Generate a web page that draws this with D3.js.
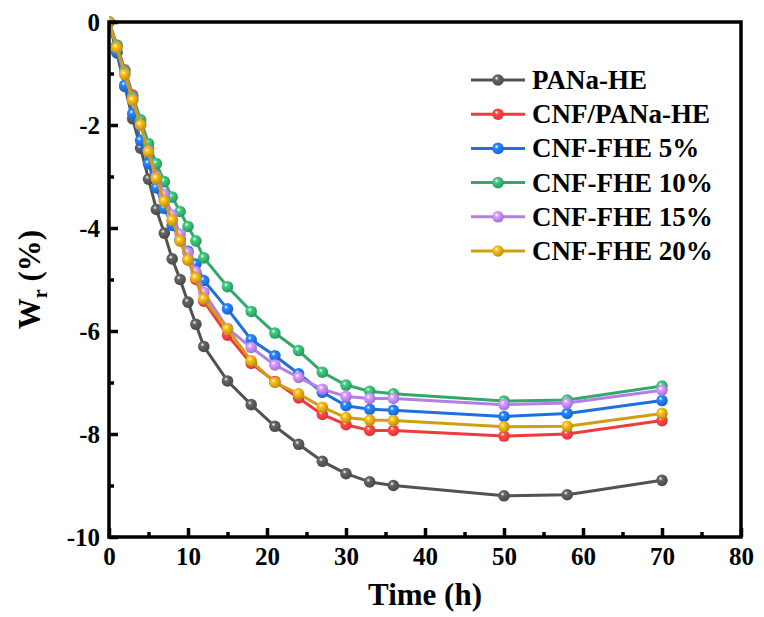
<!DOCTYPE html>
<html><head><meta charset="utf-8">
<script src="https://cdn.jsdelivr.net/npm/d3@7"></script>
<style>body{margin:0;background:#fff}svg{display:block}</style>
</head><body>
<svg id="c" width="764" height="617"></svg>
<script>
const times = [0,1,2,3,4,5,6,7,8,9,10,11,12,15,18,21,24,27,30,33,36,50,58,70];
const seriesNames = ["PANa-HE","CNF/PANa-HE","CNF-FHE 5%","CNF-FHE 10%","CNF-FHE 15%","CNF-FHE 20%"];
const seriesColors = ["#525252","#ee3b3b","#1f6fde","#32a96a","#b27fe6","#d29d12"];
const panaHE   = [0,-0.6,-1.25,-1.88,-2.45,-3.05,-3.64,-4.1,-4.6,-5.0,-5.44,-5.87,-6.3,-6.97,-7.43,-7.85,-8.2,-8.53,-8.77,-8.93,-9.0,-9.2,-9.18,-8.9];
const cnfPana  = [0,-0.45,-0.93,-1.42,-1.95,-2.45,-2.98,-3.45,-3.85,-4.25,-4.62,-5.0,-5.42,-6.08,-6.63,-6.98,-7.3,-7.62,-7.82,-7.93,-7.93,-8.04,-8.0,-7.74];
const fhe5     = [0,-0.58,-1.23,-1.78,-2.3,-2.75,-3.22,-3.62,-3.95,-4.22,-4.45,-4.7,-5.02,-5.57,-6.17,-6.48,-6.83,-7.19,-7.45,-7.52,-7.54,-7.66,-7.6,-7.35];
const fhe10    = [0,-0.45,-0.95,-1.45,-1.9,-2.36,-2.75,-3.1,-3.4,-3.68,-3.97,-4.25,-4.58,-5.14,-5.62,-6.04,-6.38,-6.8,-7.05,-7.17,-7.22,-7.36,-7.34,-7.07];
const fhe15    = [0,-0.5,-1.0,-1.5,-2.0,-2.5,-3.0,-3.35,-3.75,-4.12,-4.48,-4.85,-5.25,-5.95,-6.32,-6.66,-6.9,-7.13,-7.27,-7.31,-7.31,-7.43,-7.40,-7.15];
const fhe20    = [0,-0.5,-1.02,-1.52,-2.0,-2.52,-3.04,-3.48,-3.85,-4.25,-4.62,-4.97,-5.38,-5.96,-6.58,-7.0,-7.22,-7.48,-7.68,-7.73,-7.74,-7.86,-7.85,-7.6];
const xTicks = [0,10,20,30,40,50,60,70,80];
const yTicks = [0,-2,-4,-6,-8,-10];
const allSeries = [panaHE,cnfPana,fhe5,fhe10,fhe15,fhe20];

const svg = d3.select("#c");
const L=109, R=741, T=22, B=537;
const x = d3.scaleLinear().domain([0,80]).range([L,R]);
const y = d3.scaleLinear().domain([-10,0]).range([B,T]);
const font = "'Liberation Serif','Times New Roman',serif";
const fmt = d => String(d); // plain hyphen-minus

const defs = svg.append("defs");
seriesColors.forEach((c,i)=>{
  const g = defs.append("radialGradient").attr("id","g"+i)
    .attr("cx","0.38").attr("cy","0.35").attr("r","0.7");
  g.append("stop").attr("offset","0").attr("stop-color","#ffffff");
  g.append("stop").attr("offset","0.25").attr("stop-color",d3.color(c).brighter(0.6));
  g.append("stop").attr("offset","0.7").attr("stop-color",c);
  g.append("stop").attr("offset","1").attr("stop-color",d3.color(c).darker(0.4));
});

const plot = svg.append("g");
plot.append("clipPath").attr("id","clip").append("rect").attr("x",L).attr("y",T-8).attr("width",R-L).attr("height",B-T+8);
const line = d3.line().x((d,i)=>x(times[i])).y(d=>y(d));
allSeries.forEach((s,i)=>{
  const g = plot.append("g").attr("clip-path","url(#clip)");
  g.append("path").datum(s).attr("d",line).attr("fill","none")
    .attr("stroke",seriesColors[i]).attr("stroke-width",3).attr("stroke-linejoin","round");
  g.selectAll("circle").data(s).join("circle")
    .attr("cx",(d,k)=>x(times[k])).attr("cy",d=>y(d)).attr("r",5.8)
    .attr("fill",`url(#g${i})`);
});

const xAxis = d3.axisBottom(x).tickValues(xTicks).tickSizeInner(-9).tickSizeOuter(0).tickPadding(10).tickFormat(fmt);
const xMinor = d3.axisBottom(x).tickValues(d3.range(5,80,10)).tickSize(-5).tickFormat("");
const yAxis = d3.axisLeft(y).tickValues(yTicks).tickSizeInner(-9).tickSizeOuter(0).tickPadding(9).tickFormat(fmt);
const yMinor = d3.axisLeft(y).tickValues([-1,-3,-5,-7,-9]).tickSize(-5).tickFormat("");

function styleAxis(g){
  g.select(".domain").remove();
  g.selectAll(".tick line").attr("stroke","#000").attr("stroke-width",3.5);
  g.selectAll("text").attr("font-family",font).attr("font-weight","bold").attr("font-size",25).attr("fill","#000");
}
svg.append("g").attr("transform",`translate(0,${B})`).call(xAxis).call(styleAxis);
svg.append("g").attr("transform",`translate(0,${B})`).call(xMinor).call(styleAxis);
svg.append("g").attr("transform",`translate(${L},0)`).call(yAxis).call(styleAxis);
svg.append("g").attr("transform",`translate(${L},0)`).call(yMinor).call(styleAxis);

svg.append("rect").attr("x",L).attr("y",T).attr("width",R-L).attr("height",B-T)
  .attr("fill","none").attr("stroke","#000").attr("stroke-width",3.5);

svg.append("text").attr("x",(L+R)/2).attr("y",605).attr("text-anchor","middle")
  .attr("font-family",font).attr("font-weight","bold").attr("font-size",31).text("Time (h)");
const yt = svg.append("text").attr("transform",`translate(40,${(T+B)/2}) rotate(-90)`).attr("text-anchor","middle")
  .attr("font-family",font).attr("font-weight","bold").attr("font-size",31);
yt.append("tspan").text("W");
yt.append("tspan").attr("font-size",20).attr("dy",7).text("r");
yt.append("tspan").attr("dy",-7).text(" (%)");

const lg = svg.append("g");
seriesNames.forEach((n,i)=>{
  const yy = 80 + i*34.2;
  lg.append("line").attr("x1",471).attr("x2",525).attr("y1",yy).attr("y2",yy)
    .attr("stroke",seriesColors[i]).attr("stroke-width",3);
  lg.append("circle").attr("cx",498).attr("cy",yy).attr("r",5.8).attr("fill",`url(#g${i})`);
  lg.append("text").attr("x",532).attr("y",yy+9).attr("font-family",font).attr("font-weight","bold")
    .attr("font-size",27).attr("fill","#000").text(n);
});
</script>
</body></html>
